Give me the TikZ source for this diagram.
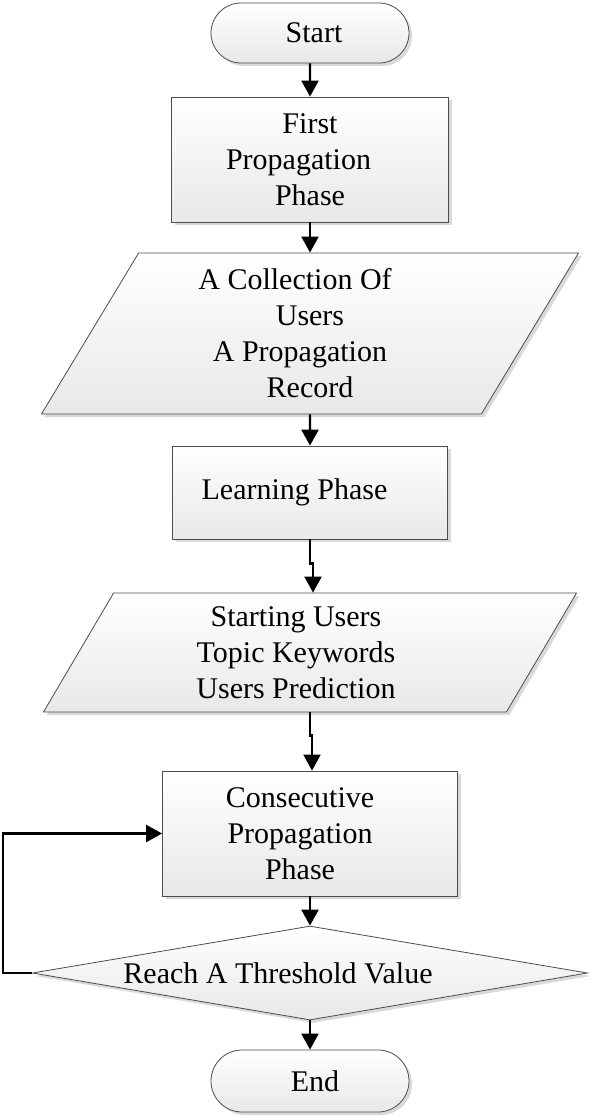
\documentclass[tikz,border=0pt]{standalone}
\usepackage{fontspec}
\setmainfont{Liberation Serif}
\usetikzlibrary{arrows.meta,shapes.geometric,shapes.misc,shadows}
\tikzset{>={Triangle[width=17pt,length=16pt]}}
\tikzset{
  box/.style={draw=black!70, line width=0.8pt, top color=white, bottom color=black!9,
    drop shadow={shadow xshift=3pt, shadow yshift=-3pt, fill=black!15, opacity=1},
    align=center, inner sep=0pt, font=\fontsize{30}{36}\selectfont},
  term/.style={box, rounded rectangle},
  proc/.style={box, rectangle},
  io/.style={box, trapezium, trapezium left angle=58, trapezium right angle=122,
    trapezium stretches body},
  decide/.style={box, diamond, aspect=5.9},
  flow/.style={->, line width=2.2pt}
}

\begin{document}
\begin{tikzpicture}[x=1pt, y=-1pt]

  \newcommand\colx{310}
  \useasboundingbox (0,0) rectangle (590,1116);

  % shapes, top to bottom
  \node[term, minimum width=198pt, minimum height=60pt] (start) at (\colx, 33) {\kern8pt Start};
  \node[proc, minimum width=277pt, minimum height=125pt] (first) at (\colx, 159.5)
    {First\\Propagation\kern23pt\\Phase};
  \node[io, inner ysep=13pt, minimum width=537pt, minimum height=161pt] (in1) at (\colx, 333.5)
    {A Collection Of\kern30pt\\Users\\A Propagation\kern20pt\\Record};
  \node[proc, minimum width=275pt, minimum height=93pt] (learn) at (\colx, 492.5)
    {Learning Phase\kern31pt};
  \node[io, inner ysep=10pt, minimum width=533pt, minimum height=119pt] (in2) at (\colx, 652.5)
    {Starting Users\kern28pt\\Topic Keywords\kern28pt\\Users Prediction\kern28pt};
  \node[proc, minimum width=295pt, minimum height=125pt] (cons) at (\colx, 833.5)
    {Consecutive\kern20pt\\Propagation\kern20pt\\Phase\kern20pt};
  \node[decide, minimum width=555pt, minimum height=94pt] (check) at (\colx, 973)
    {Reach A Threshold Value\kern64pt};
  \node[term, minimum width=198pt, minimum height=62pt] (stop) at (\colx, 1081) {\kern10pt End};

  % connectors
  \draw[flow] (start) -- (first);
  \draw[flow] (first) -- (in1);
  \draw[flow] (in1) -- (learn);
  \draw[flow] (learn.south) -- ++(0,-24pt) -| ([xshift=3pt]in2.north);
  \draw[flow] (in2.south) -- ++(0,-23pt) -| ([xshift=2pt]cons.north);
  \draw[flow] (cons) -- (check);
  \draw[flow] (check) -- (stop);
  \draw[flow] (check.west) -- ++(-29pt,0) |- (cons.west); % loop back

\end{tikzpicture}
\end{document}
